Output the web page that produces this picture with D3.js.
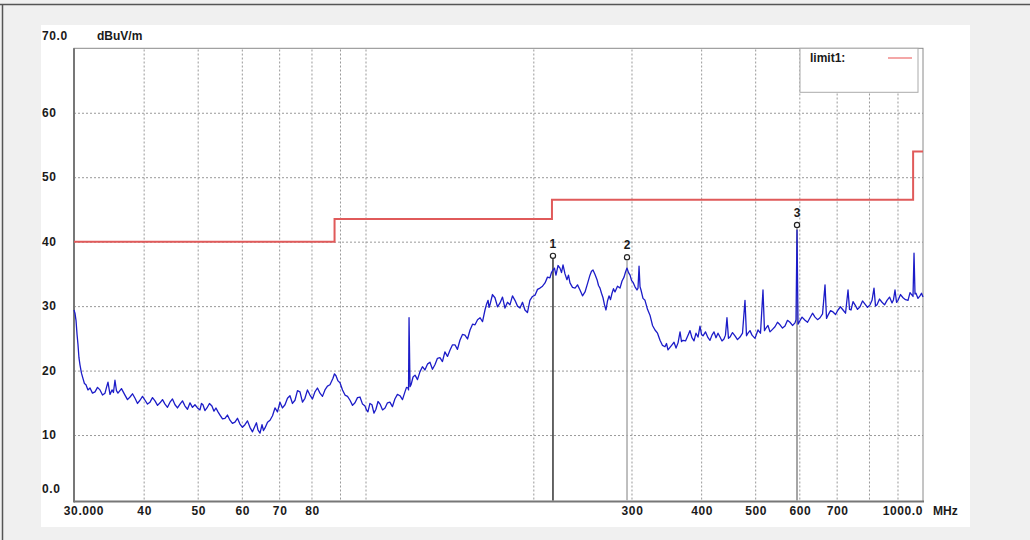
<!DOCTYPE html>
<html><head><meta charset="utf-8">
<script src="https://cdn.jsdelivr.net/npm/d3@7"></script>
<style>
body{margin:0;background:#f0f0f0;}
svg{display:block;}
text{font-family:"Liberation Sans",Arial,sans-serif;font-weight:bold;font-size:12px;fill:#1a1a1a;}
</style>
</head><body>
<svg id="c" width="1030" height="540"></svg>
<script>
// ---- data ----
const traceFreq = [
30.0,30.25,30.5,30.75,31.13,31.52,32.05,32.72,33.4,34.1,
34.52,35.1,35.53,35.97,37.03,37.81,38.6,39.4,40.23,41.06,
41.92,42.8,43.69,44.6,45.53,46.48,47.45,48.44,49.44,50.48,
51.1,51.95,53.03,53.92,54.83,55.96,57.13,58.32,59.54,60.78,
62.05,63.35,64.14,65.22,66.03,67.41,68.81,70.24,71.71,73.2,
74.73,76.29,77.87,79.5,81.15,82.86,84.58,86.35,87.43,88.52,
90.0,91.88,93.8,95.75,97.75,99.8,101.0,102.7,104.4,106.2,
108.4,110.6,112.9,115.3,117.7,119.2,119.7,120.7,122.7,125.2,
127.8,130.5,133.2,136.0,138.8,141.8,144.7,147.7,150.8,154.0,
157.2,160.5,163.8,165.9,167.2,170.7,174.3,177.9,181.6,185.4,
189.3,193.2,197.2,201.4,205.6,209.9,214.2,216.9,219.6,223.3,
226.1,229.8,232.7,237.6,242.5,247.6,252.7,255.9,260.2,263.4,
266.7,270.0,273.4,276.8,280.2,286.1,290.9,294.5,298.2,301.9,
306.9,309.5,312.0,317.2,323.8,330.6,337.5,344.5,348.8,354.6,
360.6,366.6,371.1,378.9,385.1,391.6,398.1,403.1,411.5,418.3,
425.3,432.4,439.5,445.0,450.6,460.0,469.6,479.4,485.4,493.5,
505.8,516.4,522.8,531.5,542.6,554.0,565.5,577.3,589.4,594.3,
599.3,614.3,627.1,640.2,653.6,667.2,675.5,689.6,704.0,718.7,
733.7,742.8,755.2,770.9,787.0,803.4,816.8,827.0,844.3,861.9,
879.9,890.8,902.0,920.8,940.0,955.6,963.6,971.4,987.6,1000
];
const traceLevel = [
29.4,27.8,24.0,20.9,18.8,17.8,17.3,16.7,17.0,16.5,
18.2,17.0,18.5,16.5,16.2,15.9,15.7,15.4,15.4,15.1,
15.3,15.0,14.8,15.1,14.7,14.8,14.5,15.0,14.7,13.9,
14.7,14.2,14.5,14.2,13.1,12.6,12.3,12.0,11.7,11.6,
11.2,11.4,10.8,11.6,11.1,12.3,14.2,15.1,14.7,16.1,
15.4,16.7,15.7,16.2,16.7,16.5,17.0,17.8,18.8,19.2,
18.1,16.2,15.4,15.0,15.9,14.5,13.6,14.7,14.0,14.8,
14.2,15.1,15.6,16.1,16.7,17.3,28.2,17.8,19.3,19.8,
20.1,21.3,20.9,22.0,22.9,23.2,24.0,24.7,25.5,26.3,
27.1,28.2,29.4,30.9,30.2,31.3,30.5,29.7,30.2,30.9,
29.7,29.4,30.9,31.7,32.8,33.6,34.4,35.6,34.8,35.9,
36.4,34.1,33.6,32.8,32.5,32.2,34.8,35.6,34.1,32.8,
31.3,29.4,31.6,32.0,32.2,32.8,34.5,35.9,34.8,33.7,
32.5,36.2,32.5,30.9,28.6,26.3,24.7,23.7,23.2,24.0,
23.5,26.0,24.7,25.5,25.1,25.8,26.9,25.4,25.1,25.5,
25.1,25.2,24.9,28.2,25.2,25.4,25.2,30.9,25.8,25.5,
26.3,32.5,26.6,26.0,26.8,27.1,26.9,27.5,27.4,41.8,
27.5,27.8,28.2,28.3,28.2,33.3,28.6,29.1,29.4,29.4,
32.5,29.4,30.2,29.9,30.3,30.2,32.8,30.2,30.6,30.9,
30.5,32.5,30.9,31.3,30.9,31.7,38.2,32.0,31.6,31.4
];
// in-between sweep points (noise of the trace)
const noiseFreq = [
30.12,30.38,30.62,30.94,31.32,31.78,32.38,33.06,33.75,34.31,
34.81,35.31,35.75,36.5,37.42,38.2,39.0,39.81,40.64,41.49,
42.36,43.24,44.14,45.06,46.0,46.96,47.94,48.94,49.96,50.79,
51.52,52.49,53.48,54.38,55.4,56.54,57.72,58.93,60.16,61.42,
62.7,63.74,64.68,65.62,66.72,68.11,69.52,70.97,72.45,73.96,
75.51,77.08,78.68,80.32,82.0,83.72,85.46,86.89,87.98,89.26,
90.94,92.84,94.78,96.75,98.78,100.4,101.85,103.55,105.3,107.3,
109.5,111.75,114.1,116.5,118.45,119.45,120.2,121.7,123.95,126.5,
129.15,131.85,134.6,137.4,140.3,143.25,146.2,149.25,152.4,155.6,
158.85,162.15,164.85,166.55,168.95,172.5,176.1,179.75,183.5,187.35,
191.25,195.2,199.3,203.5,207.75,212.05,215.55,218.25,221.45,224.7,
227.95,231.25,235.15,240.05,245.05,250.15,254.3,258.05,261.8,265.05,
268.35,271.7,275.1,278.5,283.15,288.5,292.7,296.35,300.05,304.4,
308.2,310.75,314.6,320.5,327.2,334.05,341.0,346.65,351.7,357.6,
363.6,368.85,375.0,382.0,388.35,394.85,400.6,407.3,414.9,421.8,
428.85,435.95,442.25,447.8,455.3,464.8,474.5,482.4,489.45,499.65,
511.1,519.6,527.15,537.05,548.3,559.75,571.4,583.35,591.85,596.8,
606.8,620.7,633.65,646.9,660.4,671.35,682.55,696.8,711.35,726.2,
738.25,749.0,763.05,778.95,795.2,810.1,821.9,835.65,853.1,870.9,
885.35,896.4,911.4,930.4,947.8,959.6,967.5,979.5,993.8
];
const noiseLevel = [
28.9,25.6,22.0,19.6,18.0,17.0,16.5,17.4,16.2,17.4,
16.3,16.6,16.9,17.2,15.5,16.4,14.9,16.0,14.8,15.8,
14.6,15.5,14.3,15.6,14.2,15.3,14.0,14.3,14.2,14.9,
13.8,14.9,13.7,13.6,12.5,13.1,11.8,12.6,11.2,12.2,
10.5,11.9,10.3,10.7,12.0,13.0,13.6,14.2,15.7,14.9,
16.9,15.1,17.0,15.6,17.3,16.0,17.6,18.3,19.5,18.4,
17.0,16.0,14.6,15.8,14.8,13.9,14.9,13.4,15.2,13.9,
15.0,14.4,16.3,15.5,17.4,17.0,17.5,19.0,18.6,20.6,
21.0,20.2,21.9,21.4,22.2,24.0,23.3,25.6,24.9,27.2,
27.9,27.6,30.3,29.8,31.8,29.9,31.4,30.6,31.6,30.0,
30.6,29.0,31.5,32.6,33.1,34.5,35.2,35.9,36.3,35.2,
35.0,34.8,32.9,33.3,31.6,33.5,35.4,34.9,33.2,32.0,
30.2,30.8,31.0,32.7,33.1,33.9,35.3,35.2,34.0,33.0,
32.8,33.0,31.2,29.5,27.0,25.8,23.9,24.2,23.6,24.4,
24.3,24.5,24.6,26.2,24.6,25.2,25.6,26.0,24.7,26.0,
25.8,24.6,25.5,25.0,25.9,24.8,25.8,25.4,26.2,25.0,
25.8,26.2,27.0,26.4,27.5,26.6,27.8,27.0,27.9,27.2,
28.3,27.5,28.9,27.9,28.8,28.1,29.3,28.7,29.9,28.9,
29.5,30.7,29.5,30.8,29.8,30.9,30.0,31.1,30.2,31.4,
31.0,30.6,31.8,31.0,32.1,31.5,31.9,31.2,32.0
];
const limitFreq  = [30, 88, 88, 216, 216, 960, 960, 1000];
const limitLevel = [40, 40, 43.5, 43.5, 46.5, 46.5, 54, 54];
const markerLabel = ["1", "2", "3"];
const markerFreq  = [216.9, 294.5, 594.3];
const markerLevel = [37.8, 37.6, 42.6];
const xGridValues = [40,50,60,70,80,90,100,200,300,400,500,600,700,800,900];
const xTickValues = [30,40,50,60,70,80,300,400,500,600,700,1000];
const xTickLabels = ["30.000","40","50","60","70","80","300","400","500","600","700","1000.0"];
const yTickValues = [0,10,20,30,40,50,60,70];
const yTickLabels = ["0.0","10","20","30","40","50","60","70.0"];
const yUnit = "dBuV/m", xUnit = "MHz", legendLabel = "limit1:";

// ---- layout ----
const svg = d3.select("#c");
const L = 74, R = 923, T = 48.3, B = 499.5;
const x = d3.scaleLog().domain([30, 1000]).range([L, R]);
const y = d3.scaleLinear().domain([0, 70]).range([B, T]);

// outer frame
svg.append("rect").attr("x",0).attr("y",0).attr("width",1030).attr("height",540).attr("fill","#f0f0f0");
svg.append("line").attr("x1",0).attr("x2",1030).attr("y1",4.5).attr("y2",4.5).attr("stroke","#555").attr("stroke-width",1.5);
svg.append("line").attr("x1",2.5).attr("x2",2.5).attr("y1",4).attr("y2",540).attr("stroke","#555").attr("stroke-width",1.5);
// white panel
svg.append("rect").attr("x",41).attr("y",25).attr("width",929).attr("height",502).attr("fill","#fff");

// grid via axes
const gx = svg.append("g").attr("transform",`translate(0,${B})`)
  .call(d3.axisBottom(x).tickValues(xGridValues).tickSize(-(B-T)).tickFormat(""));
gx.select(".domain").remove();
gx.selectAll("line").attr("stroke","#999").attr("stroke-dasharray","2,2");
const gy = svg.append("g").attr("transform",`translate(${L},0)`)
  .call(d3.axisLeft(y).tickValues(yTickValues.slice(1,-1)).tickSize(-(R-L)).tickFormat(""));
gy.select(".domain").remove();
gy.selectAll("line").attr("stroke","#999").attr("stroke-dasharray","2,2");

// plot border
svg.append("rect").attr("x",L).attr("y",T).attr("width",R-L).attr("height",B-T+2)
  .attr("fill","none").attr("stroke","#8a8a8a").attr("stroke-width",1);
svg.append("line").attr("x1",L).attr("x2",R+1).attr("y1",B+2).attr("y2",B+2).attr("stroke","#777").attr("stroke-width",2);
svg.append("line").attr("x1",L).attr("x2",L).attr("y1",T).attr("y2",B+3).attr("stroke","#777").attr("stroke-width",2);

// y labels
svg.append("g").selectAll("text").data(yTickValues).join("text")
  .attr("x",42)
  .attr("y",(d,i)=> i===0 ? 489 : (i===yTickValues.length-1 ? 36 : y(d)))
  .attr("dy","0.35em")
  .attr("letter-spacing","0.6")
  .text((d,i)=>yTickLabels[i]);
svg.append("text").attr("x",97).attr("y",36).attr("dy","0.35em").attr("font-size","11px").text(yUnit);

// x labels
svg.append("g").selectAll("text").data(xTickValues).join("text")
  .attr("x",(d,i)=> i===0 ? x(d)+10 : (d===1000 ? x(d) : x(d)+1))
  .attr("y",511).attr("dy","0.35em")
  .attr("text-anchor",(d)=> d===1000 ? "end" : "middle")
  .attr("letter-spacing","0.6")
  .text((d,i)=>xTickLabels[i]);
svg.append("text").attr("x",933).attr("y",511).attr("dy","0.35em").attr("font-size","11px").text(xUnit);

// legend
svg.append("rect").attr("x",800).attr("y",T).attr("width",118).attr("height",44)
  .attr("fill","#fff").attr("stroke","#aaa").attr("stroke-width",1);
svg.append("text").attr("x",810).attr("y",58).attr("dy","0.35em").attr("font-size","11px").text(legendLabel);
svg.append("line").attr("x1",888).attr("x2",912).attr("y1",58).attr("y2",58).attr("stroke","#f08a8a").attr("stroke-width",1.5);

// limit line
const limitData = d3.zip(limitFreq, limitLevel);
svg.append("path").datum(limitData)
  .attr("d", d3.line().x(d=>x(d[0])).y(d=>y(d[1])))
  .attr("fill","none").attr("stroke","#e05a5a").attr("stroke-width",2);

// marker lines
const mColors = ["#333","#aaa","#888"];
svg.append("g").selectAll("line").data(markerFreq).join("line")
  .attr("x1",d=>x(d)).attr("x2",d=>x(d))
  .attr("y1",B+1).attr("y2",(d,i)=>y(markerLevel[i])+3)
  .attr("stroke",(d,i)=>mColors[i]).attr("stroke-width",1.5);

// trace: main sweep points merged with in-between points
const traceData = d3.zip(traceFreq, traceLevel)
  .concat(d3.zip(noiseFreq, noiseLevel))
  .sort((a,b)=>a[0]-b[0]);
svg.append("path").datum(traceData)
  .attr("d", d3.line().x(d=>x(d[0])).y(d=>y(d[1])))
  .attr("fill","none").attr("stroke","#1c1cc8").attr("stroke-width",1.3)
  .attr("stroke-linejoin","round");

// markers
const mg = svg.append("g");
mg.selectAll("circle").data(markerFreq).join("circle")
  .attr("cx",d=>x(d)).attr("cy",(d,i)=>y(markerLevel[i]))
  .attr("r",2.6).attr("fill","none").attr("stroke","#222").attr("stroke-width",1.2);
mg.selectAll("text").data(markerFreq).join("text")
  .attr("x",d=>x(d)).attr("y",(d,i)=>y(markerLevel[i])-12).attr("dy","0.35em")
  .attr("text-anchor","middle").attr("font-size","12px").attr("font-weight","normal")
  .text((d,i)=>markerLabel[i]);
</script>
</body></html>
